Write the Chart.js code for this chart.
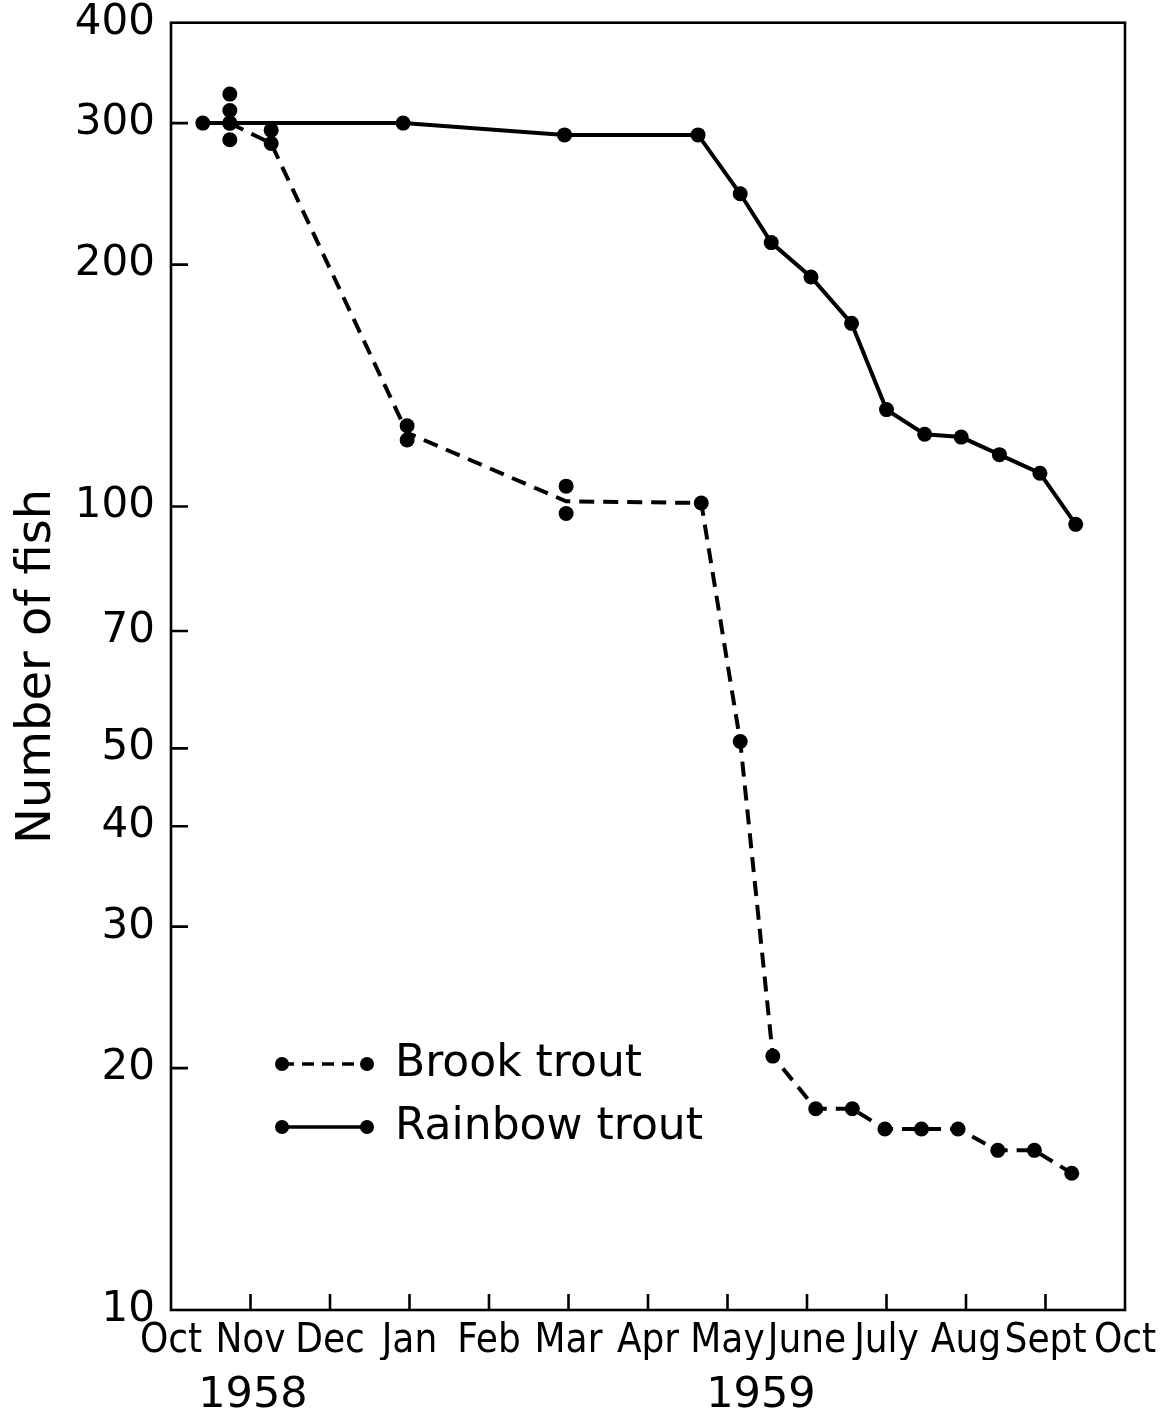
<!DOCTYPE html>
<html><head><meta charset="utf-8">
<script src="https://cdn.jsdelivr.net/npm/chart.js@4.4.0/dist/chart.umd.min.js"></script>
<style>html,body{margin:0;padding:0;background:#fff;} #wrap{width:1165px;height:1416px;}</style>
</head><body><div id="wrap"><canvas id="c" width="1165" height="1416"></canvas></div>
<script>
// ---- data ----
const monthLabels = ['Oct','Nov','Dec','Jan','Feb','Mar','Apr','May','June','July','Aug','Sept','Oct'];
const yearLabels = ['1958','1959'];
const yearPositions = [1.03, 7.42];
const yTickValues = [10,20,30,40,50,70,100,200,300,400];
const rainbowMonths = [0.40,0.74,2.92,4.95,6.63,7.16,7.55,8.05,8.56,9.00,9.48,9.94,10.42,10.93,11.38];
const rainbowCounts = [300,300,300,290,290,245,213,193,169,132,123,122,116,110,95];
const brookMonths = [0.74,1.26,2.97,4.97,6.67,7.16,7.57,8.11,8.57,8.98,9.44,9.90,10.40,10.86,11.33];
const brookCounts = [300,283,123.5,101.5,101,51,20.7,17.8,17.8,16.8,16.8,16.8,15.8,15.8,14.8];
const brookHasMarker = [1,1,0,0,1,1,1,1,1,1,1,1,1,1,1];
const replicateMonths = [0.74,0.74,0.74,1.26,2.97,2.97,4.97,4.97];
const replicateCounts = [326,311,286,294,126,121,106,98];

const FONT = "'DejaVu Sans', sans-serif";
const FONT_C = "'DejaVu Sans Condensed','DejaVu Sans', sans-serif";
const R = 7.5;

const framePlugin = {
  id: 'frame',
  afterDraw(chart) {
    const {ctx, chartArea: a, scales} = chart;
    ctx.save();
    ctx.strokeStyle = '#000';
    ctx.lineWidth = 2.6;
    ctx.strokeRect(a.left, a.top, a.right - a.left, a.bottom - a.top);
    ctx.beginPath();
    yTickValues.forEach(v => {
      if (v === scales.y.min || v === scales.y.max) return;
      const py = scales.y.getPixelForValue(v);
      ctx.moveTo(a.left, py); ctx.lineTo(a.left + 17, py);
    });
    monthLabels.forEach((_, i) => {
      if (i === 0 || i === monthLabels.length - 1) return;
      const px = scales.x.getPixelForValue(i);
      ctx.moveTo(px, a.bottom); ctx.lineTo(px, a.bottom - 16);
    });
    ctx.stroke();
    ctx.restore();
  }
};

const legendPlugin = {
  id: 'customLegend',
  afterDraw(chart) {
    const {ctx, chartArea: a} = chart;
    const rows = [
      {text: 'Brook trout', dash: [12, 8], y: a.bottom - 246},
      {text: 'Rainbow trout', dash: [], y: a.bottom - 183}
    ];
    const x0 = a.left + 111, x1 = a.left + 196, tx = a.left + 224;
    ctx.save();
    rows.forEach(r => {
      ctx.strokeStyle = '#000'; ctx.fillStyle = '#000';
      ctx.lineWidth = 3.5;
      ctx.setLineDash(r.dash);
      ctx.beginPath(); ctx.moveTo(x0, r.y); ctx.lineTo(x1, r.y); ctx.stroke();
      ctx.setLineDash([]);
      [x0, x1].forEach(x => { ctx.beginPath(); ctx.arc(x, r.y, 7, 0, Math.PI * 2); ctx.fill(); });
      ctx.font = '44px ' + FONT;
      ctx.textBaseline = 'middle';
      ctx.textAlign = 'left';
      ctx.fillText(r.text, tx, r.y + 1);
    });
    ctx.restore();
  }
};

const ctx = document.getElementById('c').getContext('2d');
new Chart(ctx, {
  type: 'scatter',
  data: {
    datasets: [
      {
        label: 'Rainbow trout',
        data: rainbowMonths.map((m, i) => ({x: m, y: rainbowCounts[i]})),
        showLine: true, borderColor: '#000', backgroundColor: '#000',
        borderWidth: 4, pointRadius: R, pointHoverRadius: R, pointBorderWidth: 0, tension: 0
      },
      {
        label: 'Brook trout',
        data: brookMonths.map((m, i) => ({x: m, y: brookCounts[i]})),
        showLine: true, borderColor: '#000', backgroundColor: '#000',
        borderWidth: 4, borderDash: [15, 9],
        pointRadius: brookHasMarker.map(v => v ? R : 0), pointBorderWidth: 0, tension: 0
      },
      {
        label: 'Brook trout replicates',
        data: replicateMonths.map((m, i) => ({x: m, y: replicateCounts[i]})),
        showLine: false, borderColor: '#000', backgroundColor: '#000',
        pointRadius: R, pointBorderWidth: 0
      }
    ]
  },
  options: {
    responsive: false, animation: false, devicePixelRatio: 1,
    layout: {padding: {top: 14, right: 40, left: 0, bottom: 0}},
    plugins: {legend: {display: false}, tooltip: {enabled: false}},
    scales: {
      x: {
        type: 'linear', min: 0, max: 12, position: 'bottom',
        afterBuildTicks: s => { s.ticks = monthLabels.map((_, i) => ({value: i})); },
        ticks: {callback: v => monthLabels[v], autoSkip: false, maxRotation: 0, minRotation: 0, padding: 4, color: '#000', font: {family: FONT_C, size: 40, lineHeight: 1.0}},
        grid: {display: false}, border: {display: false},
        afterFit: s => { s.height = 50; }
      },
      x2: {
        type: 'linear', min: 0, max: 12, position: 'bottom',
        afterBuildTicks: s => { s.ticks = yearPositions.map(v => ({value: v})); },
        ticks: {callback: (v, i) => yearLabels[i], autoSkip: false, maxRotation: 0, minRotation: 0, padding: 6, color: '#000', font: {family: FONT, size: 43, lineHeight: 1.0}},
        grid: {display: false}, border: {display: false},
        afterFit: s => { s.height = 56; }
      },
      y: {
        type: 'logarithmic', min: 10, max: 400,
        afterBuildTicks: s => { s.ticks = yTickValues.map(v => ({value: v})); },
        ticks: {callback: v => String(v), autoSkip: false, padding: 8, color: '#000', font: {family: FONT, size: 42, lineHeight: 0.7}},
        title: {display: true, text: 'Number of fish', color: '#000', font: {family: FONT, size: 48, lineHeight: 1.0}, padding: {top: 14, bottom: 0}},
        grid: {display: false}, border: {display: false},
        afterFit: s => { s.width = 171; }
      }
    }
  },
  plugins: [framePlugin, legendPlugin]
});
</script></body></html>
